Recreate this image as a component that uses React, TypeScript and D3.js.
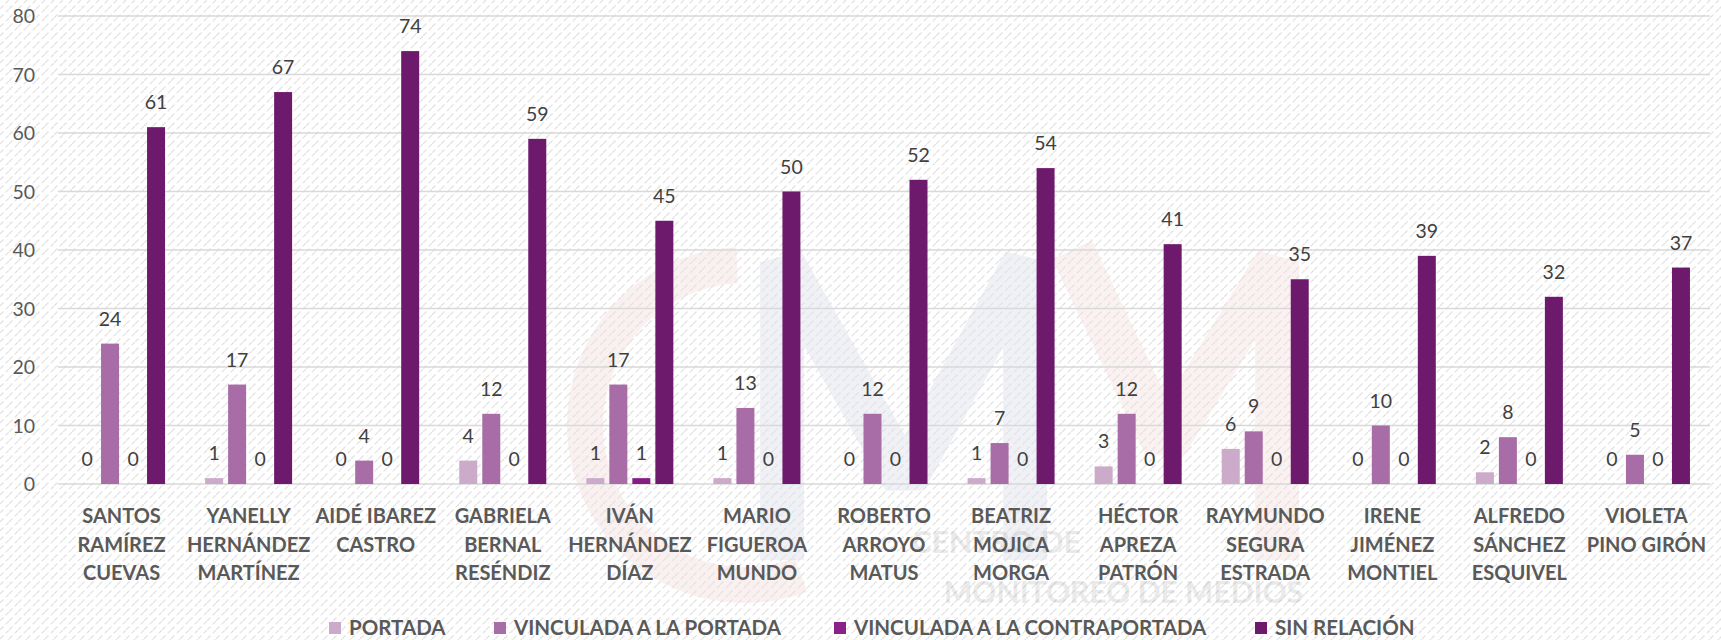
import React from "react";
import * as d3 from "d3";

const categories = [
  "SANTOS|RAMÍREZ|CUEVAS",
  "YANELLY|HERNÁNDEZ|MARTÍNEZ",
  "AIDÉ IBAREZ|CASTRO",
  "GABRIELA|BERNAL|RESÉNDIZ",
  "IVÁN|HERNÁNDEZ|DÍAZ",
  "MARIO|FIGUEROA|MUNDO",
  "ROBERTO|ARROYO|MATUS",
  "BEATRIZ|MOJICA|MORGA",
  "HÉCTOR|APREZA|PATRÓN",
  "RAYMUNDO|SEGURA|ESTRADA",
  "IRENE|JIMÉNEZ|MONTIEL",
  "ALFREDO|SÁNCHEZ|ESQUIVEL",
  "VIOLETA|PINO GIRÓN",
];

const seriesNames = [
  "PORTADA",
  "VINCULADA A LA PORTADA",
  "VINCULADA A LA CONTRAPORTADA",
  "SIN RELACIÓN",
];

const portada = [0, 1, 0, 4, 1, 1, 0, 1, 3, 6, 0, 2, 0];
const vinculadaPortada = [24, 17, 4, 12, 17, 13, 12, 7, 12, 9, 10, 8, 5];
const vinculadaContraportada = [0, 0, 0, 0, 1, 0, 0, 0, 0, 0, 0, 0, 0];
const sinRelacion = [61, 67, 74, 59, 45, 50, 52, 54, 41, 35, 39, 32, 37];

const yTicks = [0, 10, 20, 30, 40, 50, 60, 70, 80];

const seriesValues = [portada, vinculadaPortada, vinculadaContraportada, sinRelacion];
const colors = ["#CBAACA", "#A86DA6", "#861D85", "#6E1A6C"];
const legendColors = ["#CBAACA", "#A86DA6", "#8A2088", "#6E1A6C"];

const W = 1721;
const H = 640;
const FONT = "Lato, 'Open Sans', sans-serif";

export default function App() {
  const y = d3.scaleLinear().domain([0, 80]).range([484, 16]);
  const x = d3.scaleBand<string>().domain(categories).range([58, 1710]).padding(0);
  const inner = d3
    .scaleBand<string>()
    .domain(seriesNames)
    .range([0, 87])
    .paddingInner(5 / 23)
    .paddingOuter(0);
  const offset = (x.bandwidth() - 87) / 2;

  const legendX = [329, 494, 834, 1255];

  const cArc = d3.arc()({
    innerRadius: 142,
    outerRadius: 178,
    startAngle: -0.05,
    endAngle: -3.5,
  }) as string;

  return (
    <svg
      width={W}
      height={H}
      style={{ position: "absolute", left: 0, top: 0, background: "#fff" }}
      fontFamily={FONT}
    >
      <defs>
        <pattern id="hatch" width="9" height="9" patternUnits="userSpaceOnUse">
          <line x1="0" y1="9" x2="9" y2="0" stroke="#e3e3e3" strokeWidth="1.3" strokeDasharray="5 3" />
        </pattern>
      </defs>
      <rect x={0} y={0} width={W} height={H} fill="#fff" />

      {/* watermark */}
      <g>
        <path d={cArc} transform="translate(745,425)" fill="#d23a3a" opacity={0.08} />
        <polyline
          points="782,560 782,262 905,480 1025,262 1025,560"
          fill="none"
          stroke="#3a4d8f"
          strokeWidth={44}
          strokeLinejoin="bevel"
          opacity={0.08}
        />
        <polyline
          points="1072,250 1165,445 1277,262 1277,560"
          fill="none"
          stroke="#d23a3a"
          strokeWidth={44}
          strokeLinejoin="bevel"
          opacity={0.07}
        />
      </g>
      <rect x={0} y={0} width={W} height={H} fill="url(#hatch)" />
      <g fill="#999" opacity={0.2} fontWeight="bold" fontSize={30}>
        <text x={912} y={553}>CENTRO DE</text>
        <text x={944} y={603}>MONITOREO DE MEDIOS</text>
      </g>

      {/* gridlines */}
      {yTicks.map((t) => (
        <line key={t} x1={58} x2={1710} y1={y(t)} y2={y(t)} stroke="#d9d9d9" strokeWidth={1.5} />
      ))}
      {yTicks.map((t) => (
        <text
          key={"l" + t}
          x={35}
          y={y(t) + 7}
          textAnchor="end"
          fontSize={19.5}
          fill="#595959"
        >
          {t}
        </text>
      ))}

      {/* bars */}
      {categories.map((c, i) => (
        <g key={c} transform={`translate(${(x(c) as number) + offset},0)`}>
          {seriesNames.map((s, j) => {
            const v = seriesValues[j][i];
            const bx = inner(s) as number;
            return (
              <g key={s}>
                <rect x={bx} y={y(v)} width={inner.bandwidth()} height={y(0) - y(v)} fill={colors[j]} />
                <text
                  x={bx + inner.bandwidth() / 2}
                  y={y(v) - 18}
                  textAnchor="middle"
                  fontSize={19.5}
                  fill="#404040"
                >
                  {v}
                </text>
              </g>
            );
          })}
        </g>
      ))}

      {/* category labels */}
      {categories.map((c) => (
        <text
          key={"c" + c}
          x={(x(c) as number) + x.bandwidth() / 2}
          textAnchor="middle"
          fontSize={20}
          fontWeight="bold"
          fill="#595959"
        >
          {c.split("|").map((line, k) => (
            <tspan key={k} x={(x(c) as number) + x.bandwidth() / 2} y={523 + k * 28.7}>
              {line}
            </tspan>
          ))}
        </text>
      ))}

      {/* legend */}
      {seriesNames.map((s, j) => (
        <g key={"lg" + s}>
          <rect x={legendX[j]} y={622} width={12} height={12} fill={legendColors[j]} />
          <text x={legendX[j] + 20} y={634.5} fontSize={20.5} fontWeight="bold" fill="#595959">
            {s}
          </text>
        </g>
      ))}
    </svg>
  );
}
